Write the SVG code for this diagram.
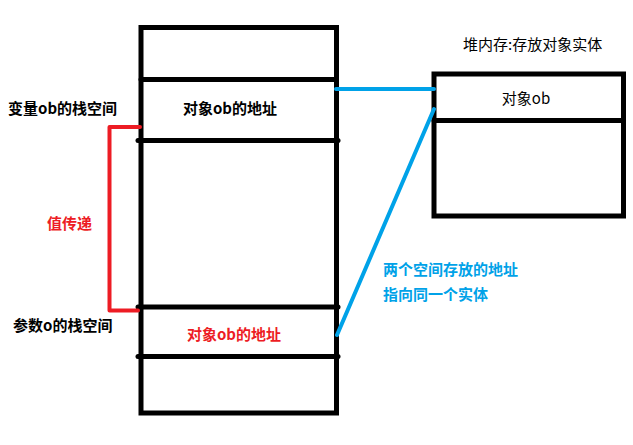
<svg xmlns="http://www.w3.org/2000/svg" width="633" height="445" viewBox="0 0 633 445">
<style>
.box{fill:none;stroke:#000;stroke-width:5}
.sep{stroke:#000;stroke-width:5;stroke-linecap:round}
.t{font-family:"Noto Sans CJK SC","Liberation Sans",sans-serif;font-size:15px}
.b{font-weight:bold}
.blue{stroke:#00a2e8;stroke-width:4;stroke-linecap:round;fill:none}
.red{stroke:#ed1c24;stroke-width:4;stroke-linecap:round;stroke-linejoin:round;fill:none}
</style>
<rect width="633" height="445" fill="#fff"/>
<g id="stack">
<rect class="box" x="141" y="27.5" width="195.5" height="385.5"/>
<line class="sep" x1="141" y1="79.5" x2="336.5" y2="79.5"/>
<line class="sep" x1="138" y1="140.5" x2="338" y2="140.5"/>
<line class="sep" x1="138" y1="307" x2="338" y2="307"/>
<line class="sep" x1="138" y1="356.5" x2="338" y2="356.5"/>
<text class="t b" x="230" y="114" text-anchor="middle">对象ob的地址</text>
<text class="t b" x="234" y="340" text-anchor="middle" fill="#ed1c24">对象ob的地址</text>
</g>
<g id="label-ob">
<text class="t b" x="8" y="114">变量ob的栈空间</text>
</g>
<g id="label-o">
<text class="t b" x="13" y="331">参数o的栈空间</text>
</g>
<g id="heap">
<text class="t" x="463" y="50" font-size="13.5">堆内存:存放对象实体</text>
<rect class="box" x="434" y="74" width="189.5" height="142"/>
<line class="sep" x1="434" y1="120.5" x2="623.5" y2="120.5"/>
<text class="t" x="526" y="104" text-anchor="middle">对象ob</text>
</g>
<g id="connectors">
<line class="blue" x1="336" y1="89" x2="434" y2="89"/>
<line class="blue" x1="434" y1="109" x2="337" y2="335"/>
<polyline class="red" points="140,127 109.5,127 109.5,310.5 138,310.5"/>
</g>
<g id="notes">
<text class="t b" x="47" y="229" fill="#ed1c24">值传递</text>
<text class="t b" x="383" y="275" fill="#00a2e8">两个空间存放的地址</text>
<text class="t b" x="383" y="300" fill="#00a2e8">指向同一个实体</text>
</g>
</svg>
